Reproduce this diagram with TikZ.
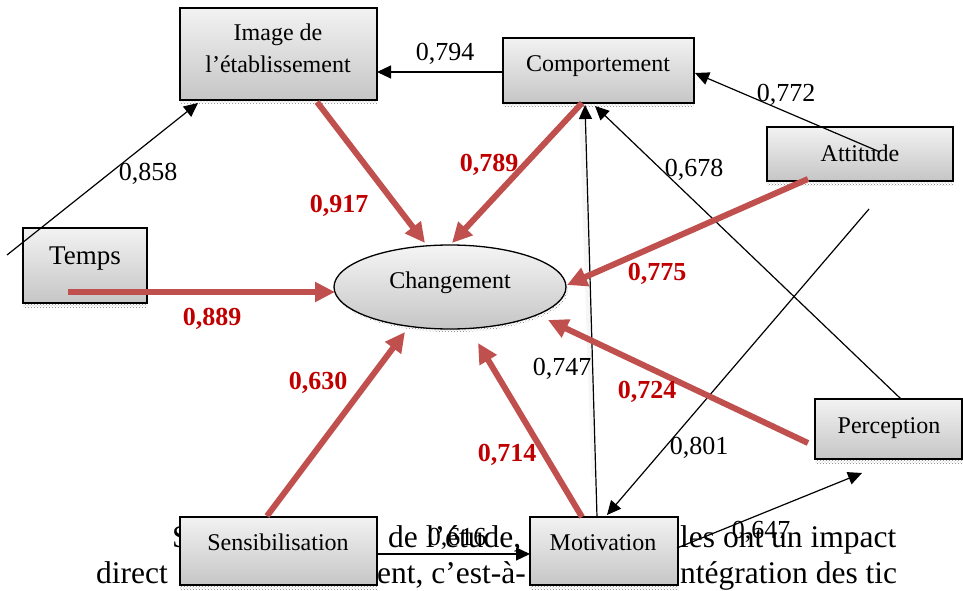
\documentclass[tikz,border=0pt]{standalone}
\usepackage{fontspec}
\setmainfont{Liberation Serif}
\usetikzlibrary{arrows.meta,patterns,calc,shapes.geometric}
\definecolor{redline}{HTML}{C0504D}
\definecolor{redlab}{HTML}{C00000}
\tikzset{
  boxnode/.style={draw=black, line width=1.3pt, top color=gray!10, bottom color=gray!45, inner sep=0pt},
  shadowstrip/.style={pattern=crosshatch dots, pattern color=gray},
  ntext/.style={font=\fontsize{24}{28}\selectfont, inner sep=0pt, text height=16pt, text depth=0pt},
  bgtext/.style={font=\fontsize{31.5}{33}\selectfont, inner sep=0pt, anchor=base west},
  blk/.style={draw=black, line width=1.2pt, -{Triangle[length=14pt,width=13pt]}},
  redarr/.style={draw=redline, line width=6pt, -{Triangle[length=20pt,width=19pt]}},
  lab/.style={font=\fontsize{26}{30}\selectfont, inner sep=0pt, text height=17.6pt, text depth=0pt},
  rlab/.style={font=\bfseries\fontsize{26}{30}\selectfont, text=redlab, inner sep=0pt, text height=17.6pt, text depth=0pt},
}
\begin{document}
\begin{tikzpicture}[x=1pt,y=-1pt]
\useasboundingbox (0,0) rectangle (963,591);
% background paragraph fragments
\node[bgtext] (p1) at (172,547) {S};
\node[bgtext] (p2) at (388,547) {de l’étude,};
\node[bgtext] (p3) at (680,547) {les ont un impact};
\node[bgtext] (p4) at (96,583) {direct};
\node[bgtext] (p5) at (377,583) {ent, c’est-à-};
\node[bgtext] (p6) at (680,583) {ntégration des tic};

% boxes with shadows
\fill[shadowstrip] (180,100) rectangle (377,104);
\node[boxnode, minimum width=197pt, minimum height=92pt] (img) at (278.5,54) {};
\node[ntext] (imgt1) at (278,33) {Image de};
\node[ntext] (imgt2) at (278,65) {l’établissement};

\fill[shadowstrip] (503,103) rectangle (694,107);
\node[boxnode, minimum width=191pt, minimum height=65pt] (cmp) at (598.5,70.5) {};
\node[ntext] (cmpt) at (598,64) {Comportement};

\fill[shadowstrip] (767,181) rectangle (953,185);
\node[boxnode, minimum width=186pt, minimum height=54pt] (att) at (860,154) {};
\node[ntext] (attt) at (860,153) {Attitude};

\fill[shadowstrip] (23,303) rectangle (147,307);
\node[boxnode, minimum width=124pt, minimum height=75pt] (tmp) at (85,265.5) {};
\node[ntext, font=\fontsize{27}{30}\selectfont, text height=18pt] (tmpt) at (85,255) {Temps};

\fill[shadowstrip] (815,459) rectangle (962,463);
\node[boxnode, minimum width=147pt, minimum height=60pt] (per) at (888.5,429) {};
\node[ntext] (pert) at (889,425) {Perception};

\fill[shadowstrip] (180,585) rectangle (377,589);
\node[boxnode, minimum width=197pt, minimum height=68pt] (sen) at (278.5,551) {};
\node[ntext] (sent) at (278,542) {Sensibilisation};

\fill[shadowstrip] (530,585) rectangle (678,589);
\node[boxnode, minimum width=148pt, minimum height=68pt] (mot) at (604,551) {};
\node[ntext] (mott) at (603,542) {Motivation};

% ellipse
\fill[shadowstrip] (452,290) ellipse [x radius=116pt, y radius=42pt];
\node[ellipse, draw=black, line width=1.3pt, top color=gray!8, bottom color=gray!45, minimum width=232pt, minimum height=84pt, inner sep=0pt] (chg) at (450,287) {};
\node[ntext] (chgt) at (450,280) {Changement};

% named coordinates
\coordinate (tmpFree) at (7,255);
\coordinate (imgT) at (198,103);
\coordinate (attS) at (880,152);
\coordinate (cmpE) at (695,73);
\coordinate (perS) at (901,399);
\coordinate (cmpT1) at (595,106);
\coordinate (motS) at (597,517);
\coordinate (cmpT2) at (585,105);
\coordinate (xFree) at (869,209);
\coordinate (motT) at (607,515);
\coordinate (motE) at (677,548);
\coordinate (perT) at (862,473);
\coordinate (senE) at (377,554);
\coordinate (motW) at (530,554);
\coordinate (cmpW) at (503,72);
\coordinate (imgE) at (377,72);

% red arrow ends
\coordinate (rTs) at (68,292);   \coordinate (rTe) at (335,292);
\coordinate (rIs) at (317,102);  \coordinate (rIe) at (425,243);
\coordinate (rCs) at (582,103);  \coordinate (rCe) at (452,243);
\coordinate (rAs) at (808,179);  \coordinate (rAe) at (567,285);
\coordinate (rPs) at (808,443);  \coordinate (rPe) at (548,320);
\coordinate (rMs) at (582,517);  \coordinate (rMe) at (478,343);
\coordinate (rSs) at (267,516);  \coordinate (rSe) at (405,332);

% faint glow of the vertical arrow
\draw[gray!7, line width=5pt] ($(motS)+(-3,-40)$) -- ($(cmpT2)+(-3,14)$);

% black connectors
\draw[blk] (cmpW) -- (imgE);
\draw[blk] (attS) -- (cmpE);
\draw[blk] (tmpFree) -- (imgT);
\draw[blk] (perS) -- (cmpT1);
\draw[blk] (motS) -- (cmpT2);
\draw[blk] (xFree) -- (motT);
\draw[blk] (motE) -- (perT);
\draw[blk] (senE) -- (motW);

% red connectors
\draw[redarr] (rTs) -- (rTe);
\draw[redarr] (rIs) -- (rIe);
\draw[redarr] (rCs) -- (rCe);
\draw[redarr] (rAs) -- (rAe);
\draw[redarr] (rPs) -- (rPe);
\draw[redarr] (rMs) -- (rMe);
\draw[redarr] (rSs) -- (rSe);

% black labels
\node[lab] (l794) at (445,52) {0,794};
\node[lab] (l772) at (786,93) {0,772};
\node[lab] (l858) at (148,172) {0,858};
\node[lab] (l678) at (694,168) {0,678};
\node[lab] (l747) at (562,367) {0,747};
\node[lab] (l801) at (699,446) {0,801};
\node[lab] (l647) at (761,530) {0,647};
\node[lab] (l616) at (457,537) {0,616};

% red labels
\node[rlab] (r917) at (339,204) {0,917};
\node[rlab] (r789) at (489,163) {0,789};
\node[rlab] (r889) at (212,317) {0,889};
\node[rlab] (r775) at (657,272) {0,775};
\node[rlab] (r630) at (318,381) {0,630};
\node[rlab] (r724) at (647,390) {0,724};
\node[rlab] (r714) at (507,453) {0,714};
\end{tikzpicture}
\end{document}
